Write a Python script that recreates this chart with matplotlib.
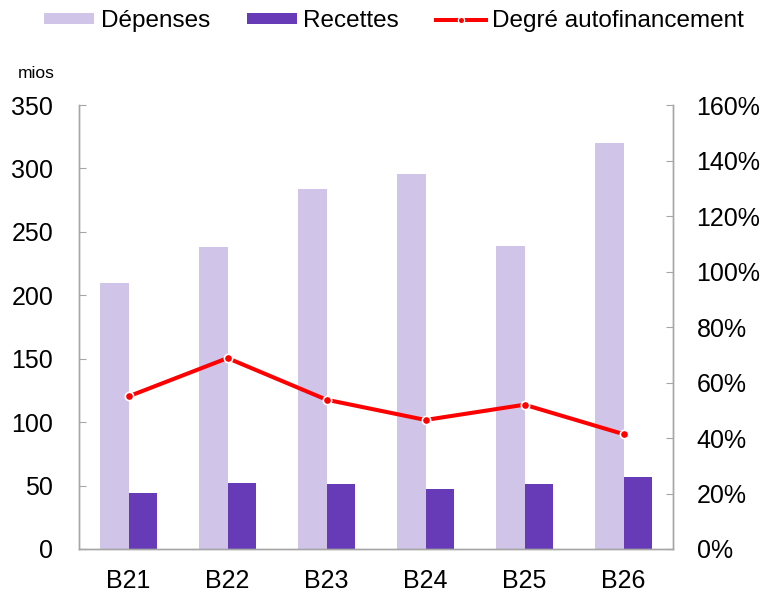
import matplotlib.pyplot as plt
import numpy as np
from matplotlib.lines import Line2D
from matplotlib.patches import Patch

plt.rcParams["font.family"] = ["Liberation Sans", "DejaVu Sans"]

# Values
categories = ["B21", "B22", "B23", "B24", "B25", "B26"]
depenses = [210, 238, 284, 296, 239, 320]
recettes = [44, 52, 51, 47, 51, 57]
autofinancement = [55.0, 68.8, 53.8, 46.5, 52.0, 41.4]  # %

COL_DEP = "#d1c4e9"
COL_REC = "#673ab7"
COL_LINE = "#ff0000"
GREY = "#a6a6a6"

fig = plt.figure(figsize=(7.68, 5.93), dpi=100)
ax = fig.add_axes([0.1029, 0.0742, 0.7734, 0.7487])
ax2 = ax.twinx()

x = np.arange(len(categories))
w = 0.288
ax.bar(x - w / 2, depenses, w, color=COL_DEP, zorder=2)
ax.bar(x + w / 2, recettes, w, color=COL_REC, zorder=2)

ax2.plot(x, autofinancement, color=COL_LINE, linewidth=2.9, marker="o",
         markersize=6, markerfacecolor=COL_LINE, markeredgecolor="white",
         markeredgewidth=1.2, zorder=3)

ax.set_xlim(-0.5, len(categories) - 0.5)
ax.set_ylim(0, 350)
ax.set_yticks(range(0, 351, 50))
ax2.set_ylim(0, 160)
ax2.set_yticks(range(0, 161, 20))
ax2.set_yticklabels([f"{v}%" for v in range(0, 161, 20)])

ax.set_xticks(x)
ax.set_xticklabels(categories)
ax.tick_params(axis="x", length=0, labelsize=18, pad=14.5)
ax.tick_params(axis="y", direction="in", length=5, color=GREY,
               labelsize=18, pad=18.5)
ax2.tick_params(axis="y", direction="in", length=5, color=GREY,
                labelsize=18, pad=17)

for a in (ax, ax2):
    a.spines["top"].set_visible(False)
    for s in ("left", "right", "bottom"):
        a.spines[s].set_color(GREY)
        a.spines[s].set_linewidth(1.0)

fig.text(18 / 768, 1 - 78 / 593, "mios", fontsize=12.5)

handles = [
    Patch(facecolor=COL_DEP, label="Dépenses"),
    Patch(facecolor=COL_REC, label="Recettes"),
    Line2D([0], [0], color=COL_LINE, linewidth=2.9, marker="o", markersize=4.5,
           markerfacecolor=COL_LINE, markeredgecolor="white",
           markeredgewidth=0.9, label="Degré autofinancement"),
]
fig.legend(handles=handles, loc="center", bbox_to_anchor=(0.513, 1 - 21 / 593),
           ncol=3, frameon=False, fontsize=17.5, handlelength=2.06,
           handleheight=0.33, handletextpad=0.25, columnspacing=1.52,
           borderpad=0)

fig.savefig("out.png", dpi=100)
